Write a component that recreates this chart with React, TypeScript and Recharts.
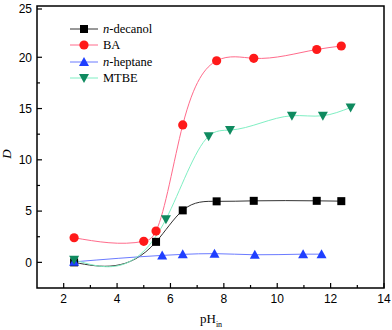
import React from "react";
import { LineChart, Line, XAxis, YAxis, ReferenceArea } from "recharts";

// pH_in values and distribution ratio D
const decanolPH = [2.39, 5.46, 6.46, 7.73, 9.12, 11.48, 12.4];
const decanolD = [0, 2.0, 5.07, 5.95, 6.0, 6.0, 5.97];
const baPH = [2.39, 5.0, 5.46, 6.46, 7.73, 9.12, 11.48, 12.4];
const baD = [2.4, 2.05, 3.05, 13.4, 19.66, 19.9, 20.76, 21.1];
const heptanePH = [2.39, 5.69, 6.46, 7.65, 9.16, 10.97, 11.66];
const heptaneD = [0.05, 0.68, 0.78, 0.85, 0.74, 0.8, 0.8];
const mtbePH = [2.39, 5.83, 7.43, 8.23, 10.55, 11.71, 12.75];
const mtbeD = [0.25, 4.2, 12.3, 12.9, 14.3, 14.3, 15.1];

const xTicks = [2, 3, 4, 5, 6, 7, 8, 9, 10, 11, 12, 13, 14];
const yTicks = [0, 2.5, 5, 7.5, 10, 12.5, 15, 17.5, 20, 22.5, 25];

const toRows = (xs: number[], ys: number[]) => xs.map((x, i) => ({ ph: x, d: ys[i] }));

const SANS = "'Liberation Sans', Arial, sans-serif";
const SERIF = "'Liberation Serif', 'Times New Roman', serif";

// natural cubic spline y(x) (like Origin's "Spline" connect), drawn as beziers
function splineCurve(context: any) {
  let pts: [number, number][] = [];
  return {
    areaStart() {},
    areaEnd() {},
    lineStart() {
      pts = [];
    },
    point(x: number, y: number) {
      pts.push([+x, +y]);
    },
    lineEnd() {
      const n = pts.length;
      if (n === 0) return;
      context.moveTo(pts[0][0], pts[0][1]);
      if (n < 3) {
        for (let i = 1; i < n; i++) context.lineTo(pts[i][0], pts[i][1]);
        return;
      }
      const h: number[] = [];
      for (let i = 0; i < n - 1; i++) h.push(pts[i + 1][0] - pts[i][0]);
      // tridiagonal solve for second derivatives, natural ends
      const M = new Array(n).fill(0);
      const a: number[] = [], b: number[] = [], c: number[] = [], r: number[] = [];
      for (let i = 1; i < n - 1; i++) {
        a.push(h[i - 1]);
        b.push(2 * (h[i - 1] + h[i]));
        c.push(h[i]);
        r.push(6 * ((pts[i + 1][1] - pts[i][1]) / h[i] - (pts[i][1] - pts[i - 1][1]) / h[i - 1]));
      }
      const m = b.length;
      for (let i = 1; i < m; i++) {
        const w = a[i] / b[i - 1];
        b[i] -= w * c[i - 1];
        r[i] -= w * r[i - 1];
      }
      const sol = new Array(m).fill(0);
      sol[m - 1] = r[m - 1] / b[m - 1];
      for (let i = m - 2; i >= 0; i--) sol[i] = (r[i] - c[i] * sol[i + 1]) / b[i];
      for (let i = 0; i < m; i++) M[i + 1] = sol[i];
      for (let i = 0; i < n - 1; i++) {
        const [x0, y0] = pts[i];
        const [x1, y1] = pts[i + 1];
        const hh = h[i];
        const s = (y1 - y0) / hh;
        const d0 = s - (hh * (2 * M[i] + M[i + 1])) / 6;
        const d1 = s + (hh * (M[i] + 2 * M[i + 1])) / 6;
        context.bezierCurveTo(x0 + hh / 3, y0 + (d0 * hh) / 3, x1 - hh / 3, y1 - (d1 * hh) / 3, x1, y1);
      }
    },
  };
}

type Shape = "square" | "circle" | "up" | "down";

function Marker({ cx, cy, shape, fill }: { cx: number; cy: number; shape: Shape; fill: string }) {
  if (shape === "square") return <rect x={cx - 4} y={cy - 4} width={8} height={8} fill={fill} />;
  if (shape === "circle") return <circle cx={cx} cy={cy} r={4.6} fill={fill} />;
  if (shape === "up")
    return <polygon points={`${cx},${cy - 5} ${cx - 5},${cy + 4} ${cx + 5},${cy + 4}`} fill={fill} />;
  return <polygon points={`${cx},${cy + 5} ${cx - 5},${cy - 4} ${cx + 5},${cy - 4}`} fill={fill} />;
}

const dotFor = (shape: Shape, fill: string) => (p: any) =>
  <Marker key={p.key ?? `${shape}-${p.index}`} cx={p.cx} cy={p.cy} shape={shape} fill={fill} />;

function XTick({ x, y, payload }: any) {
  const major = payload.value % 2 === 0;
  return (
    <g>
      <line x1={x} x2={x} y1={y} y2={y - (major ? 5 : 3)} stroke="#000" strokeWidth={1.2} />
      {major && (
        <text x={x} y={y + 15} textAnchor="middle" fontSize={12} fontFamily={SANS} fill="#000">
          {payload.value}
        </text>
      )}
    </g>
  );
}

function YTick({ x, y, payload }: any) {
  const major = payload.value % 5 === 0;
  return (
    <g>
      <line x1={x} x2={x + (major ? 5 : 3)} y1={y} y2={y} stroke="#000" strokeWidth={1.2} />
      {major && (
        <text x={x - 5} y={y + 4.3} textAnchor="end" fontSize={12} fontFamily={SANS} fill="#000">
          {payload.value}
        </text>
      )}
    </g>
  );
}

const series = [
  { name: "decanol", italic: "n", label: "-decanol", line: "#333333", fill: "#000000", shape: "square" as Shape },
  { name: "BA", italic: "", label: "BA", line: "#ff6b8b", fill: "#ff1a1a", shape: "circle" as Shape },
  { name: "heptane", italic: "n", label: "-heptane", line: "#6b7bff", fill: "#1f3fff", shape: "up" as Shape },
  { name: "MTBE", italic: "", label: "MTBE", line: "#7fefc3", fill: "#0f8a5f", shape: "down" as Shape },
];

function ChartLegend() {
  return (
    <div style={{ position: "absolute", left: 68, top: 21, fontFamily: SERIF, fontSize: 12.5, lineHeight: "16.3px" }}>
      {series.map((s) => (
        <div key={s.name} style={{ display: "flex", alignItems: "center", height: 16.3 }}>
          <svg width={32} height={14} style={{ marginRight: 3 }}>
            <line x1={2} x2={30} y1={7} y2={7} stroke={s.line} strokeWidth={1} />
            <Marker cx={16} cy={7} shape={s.shape} fill={s.fill} />
          </svg>
          <span>
            {s.italic && <i>{s.italic}</i>}
            {s.label}
          </span>
        </div>
      ))}
    </div>
  );
}

export default function App() {
  return (
    <div style={{ position: "absolute", left: 0, top: 0, width: 392, height: 330, background: "#fff" }}>
      <LineChart width={392} height={330} margin={{ top: 6, right: 8, bottom: 0, left: 0 }}>
        <XAxis
          dataKey="ph"
          type="number"
          domain={[1, 14]}
          ticks={xTicks}
          allowDataOverflow
          height={42}
          tickSize={0}
          tickMargin={0}
          tickLine={false}
          axisLine={false}
          tick={<XTick />}
        />
        <YAxis
          dataKey="d"
          type="number"
          domain={[-2.5, 25]}
          ticks={yTicks}
          allowDataOverflow
          width={37}
          tickSize={0}
          tickMargin={0}
          tickLine={false}
          axisLine={false}
          tick={<YTick />}
        />
        <ReferenceArea x1={1} x2={14} y1={-2.5} y2={25} fill="none" stroke="#000" strokeWidth={1.5} ifOverflow="visible" />
        <Line data={toRows(decanolPH, decanolD)} dataKey="d" type={splineCurve as any} stroke={series[0].line} strokeWidth={1}
          dot={dotFor("square", series[0].fill)} activeDot={false} isAnimationActive={false} />
        <Line data={toRows(baPH, baD)} dataKey="d" type={splineCurve as any} stroke={series[1].line} strokeWidth={1}
          dot={dotFor("circle", series[1].fill)} activeDot={false} isAnimationActive={false} />
        <Line data={toRows(heptanePH, heptaneD)} dataKey="d" type={splineCurve as any} stroke={series[2].line} strokeWidth={1}
          dot={dotFor("up", series[2].fill)} activeDot={false} isAnimationActive={false} />
        <Line data={toRows(mtbePH, mtbeD)} dataKey="d" type={splineCurve as any} stroke={series[3].line} strokeWidth={1}
          dot={dotFor("down", series[3].fill)} activeDot={false} isAnimationActive={false} />
      </LineChart>
      <ChartLegend />
      <div style={{ position: "absolute", left: 2, top: 146, fontFamily: SERIF, fontStyle: "italic", fontSize: 13, transform: "rotate(-90deg)" }}>
        D
      </div>
      <div style={{ position: "absolute", left: 200, top: 311, fontFamily: SERIF, fontSize: 13 }}>
        pH<sub style={{ fontSize: 8 }}>in</sub>
      </div>
    </div>
  );
}
